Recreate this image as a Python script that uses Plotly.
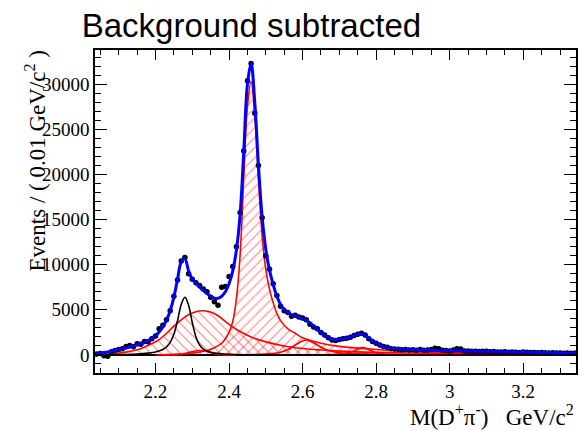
import plotly.graph_objects as go

# ---------------- data ----------------
# measured points (0.01 GeV bins)
data_m = [round(2.04 + 0.01 * i, 2) for i in range(131)]
data_v = [100, 150, -100, -150, 350, 500, 600, 700, 950, 1050,
          900, 1250, 1200, 1500, 1450, 1800, 2100, 2900, 3300, 3900,
          4900, 6500, 8300, 10400, 10800, 9000, 8400, 8000, 7700, 7300,
          7000, 6400, 5900, 5500, 7500, 7600, 8700, 9800, 12000, 15800,
          22600, 30400, 32300, 26800, 21000, 15200, 11000, 9500, 7900, 6600,
          5400, 4900, 4700, 4300, 4400, 4200, 4100, 3900, 3400, 3100,
          2900, 2500, 2200, 1900, 1650, 1600, 1700, 1800, 1850, 1950,
          2150, 2300, 2400, 2200, 1800, 1500, 1300, 1100, 950, 850,
          700, 650, 620, 580, 600, 560, 580, 530, 600, 520,
          560, 600, 750, 700, 520, 480, 450, 560, 700, 650,
          450, 430, 400, 420, 380, 400, 420, 360, 380, 340,
          330, 360, 300, 340, 310, 280, 320, 300, 260, 280,
          250, 270, 240, 230, 250, 210, 230, 200, 220, 190,
          200]

# total fit (blue)
tot_m = [2.035, 2.04, 2.05, 2.06, 2.07, 2.08, 2.09, 2.10, 2.11, 2.12, 2.13, 2.14,
         2.15, 2.16, 2.17, 2.18, 2.19, 2.20, 2.21, 2.22, 2.23, 2.24, 2.25, 2.26,
         2.27, 2.28, 2.29, 2.30, 2.31, 2.32, 2.33, 2.34, 2.35, 2.36, 2.37, 2.38,
         2.39, 2.40, 2.41, 2.42, 2.43, 2.44, 2.45, 2.46, 2.47, 2.48, 2.49, 2.50,
         2.51, 2.52, 2.53, 2.54, 2.55, 2.56, 2.57, 2.58, 2.59, 2.60, 2.61, 2.62,
         2.63, 2.64, 2.65, 2.66, 2.67, 2.68, 2.69, 2.70, 2.71, 2.72, 2.73, 2.74,
         2.75, 2.76, 2.77, 2.78, 2.79, 2.80, 2.81, 2.82, 2.83, 2.84, 2.85, 2.87,
         2.90, 2.95, 3.00, 3.05, 3.10, 3.15, 3.20, 3.25, 3.30, 3.344]
tot_v = [100, 130, 200, 270, 340, 420, 500, 580, 670, 770, 880, 1000,
         1120, 1250, 1400, 1580, 1820, 2150, 2550, 3100, 3850, 4900, 6400, 8400,
         10300, 10650, 9300, 8400, 7950, 7500, 7150, 6800, 6500, 6300, 6280, 6500,
         7000, 7900, 9300, 11600, 15500, 22500, 30000, 32300, 28000, 21000, 15300, 11700,
         9400, 7800, 6500, 5600, 5050, 4700, 4450, 4300, 4150, 4000, 3850, 3550,
         3200, 2850, 2450, 2150, 1900, 1760, 1700, 1720, 1780, 1870, 1980, 2120,
         2260, 2320, 2200, 1900, 1560, 1280, 1080, 940, 840, 770, 710, 640,
         590, 530, 480, 440, 400, 360, 320, 280, 230, 200]

# broad red component (~2.33)
broad_m = [2.035, 2.06, 2.10, 2.13, 2.16, 2.19, 2.21, 2.23, 2.25, 2.27, 2.29, 2.31,
           2.33, 2.35, 2.37, 2.40, 2.43, 2.46, 2.50, 2.55, 2.60, 2.65, 2.70, 2.80,
           2.90, 3.00, 3.10, 3.20, 3.344]
broad_v = [0, 60, 200, 400, 700, 1250, 1700, 2400, 3200, 3900, 4450, 4800,
           4900, 4750, 4350, 3400, 2600, 2000, 1450, 1000, 720, 550, 430, 290,
           210, 160, 130, 110, 90]

# main red peak (~2.46)
main_m = [2.20, 2.30, 2.34, 2.36, 2.38, 2.39, 2.40, 2.41, 2.42, 2.43, 2.44, 2.45,
          2.46, 2.47, 2.48, 2.49, 2.50, 2.51, 2.52, 2.53, 2.54, 2.56, 2.58, 2.60,
          2.65, 2.70, 2.80, 2.90, 3.00, 3.10, 3.20, 3.344]
main_v = [0, 200, 500, 800, 1300, 1800, 2500, 3700, 6200, 11000, 19500, 27500,
          30300, 26500, 19500, 13200, 9500, 7300, 5800, 4600, 3800, 2900, 2400, 1900,
          1300, 950, 600, 400, 300, 230, 180, 140]

# red component (~2.61)
c2600_m = [2.45, 2.50, 2.54, 2.56, 2.58, 2.60, 2.61, 2.62, 2.64, 2.66, 2.68, 2.72,
           2.80, 2.90, 3.344]
c2600_v = [30, 100, 300, 600, 1100, 1550, 1650, 1550, 1100, 650, 380, 180,
           80, 40, 10]

# red component (~2.76)
c2760_m = [2.62, 2.68, 2.70, 2.72, 2.74, 2.75, 2.76, 2.77, 2.78, 2.80, 2.82, 2.86,
           2.95, 3.344]
c2760_v = [0, 50, 100, 200, 450, 650, 800, 780, 600, 250, 110, 40, 15, 0]

# small red component (~2.32)
c2320_m = [2.22, 2.26, 2.28, 2.30, 2.32, 2.34, 2.36, 2.38, 2.42]
c2320_v = [0, 30, 150, 380, 500, 380, 150, 40, 0]

# black narrow component (~2.28)
narrow_m = [2.035, 2.10, 2.15, 2.18, 2.20, 2.22, 2.23, 2.24, 2.25, 2.26, 2.27, 2.28,
            2.29, 2.30, 2.31, 2.32, 2.33, 2.35, 2.38, 2.42, 2.50, 3.344]
narrow_v = [5, 30, 100, 200, 320, 600, 900, 1400, 2300, 3800, 5600, 6400,
            5500, 3600, 2000, 1100, 650, 300, 130, 50, 10, 0]

x_ticks_major = 0.2
y_ticks_major = 5000

# ---------------- figure ----------------
RED = "#ff0000"
fig = go.Figure()

clear = "rgba(0,0,0,0)"
fig.add_trace(go.Scatter(
    x=broad_m, y=broad_v, mode="lines", line=dict(color=RED, width=1.6, shape="spline"),
    fill="tozeroy", fillcolor=clear,
    fillpattern=dict(shape="\\", fgcolor=RED, bgcolor=clear, size=7, solidity=0.15),
    hoverinfo="skip", showlegend=False))
fig.add_trace(go.Scatter(
    x=main_m, y=main_v, mode="lines", line=dict(color=RED, width=1.6, shape="spline"),
    fill="tozeroy", fillcolor=clear,
    fillpattern=dict(shape="/", fgcolor=RED, bgcolor=clear, size=7, solidity=0.15),
    hoverinfo="skip", showlegend=False))
for mm, vv in [(c2600_m, c2600_v), (c2760_m, c2760_v), (c2320_m, c2320_v)]:
    fig.add_trace(go.Scatter(x=mm, y=vv, mode="lines",
                             line=dict(color=RED, width=1.6, shape="spline"),
                             hoverinfo="skip", showlegend=False))
fig.add_trace(go.Scatter(x=narrow_m, y=narrow_v, mode="lines",
                         line=dict(color="black", width=1.6, shape="spline"),
                         hoverinfo="skip", showlegend=False))
fig.add_trace(go.Scatter(x=data_m, y=data_v, mode="markers",
                         marker=dict(color="black", size=5.5),
                         error_y=dict(type="constant", value=250, color="black", thickness=1, width=0),
                         showlegend=False))
fig.add_trace(go.Scatter(x=tot_m, y=tot_v, mode="lines",
                         line=dict(color="#0000ff", width=3, shape="spline"),
                         showlegend=False))

serif = "Liberation Serif, Times New Roman, serif"
fig.update_xaxes(range=[2.0355, 3.3435], dtick=x_ticks_major, tick0=2.0,
                 ticks="inside", ticklen=10, tickwidth=1, tickcolor="black",
                 minor=dict(dtick=0.05, ticks="inside", ticklen=5, tickcolor="black"),
                 showline=True, linecolor="black", linewidth=1.5, mirror="ticks",
                 showgrid=False, zeroline=False,
                 tickfont=dict(family=serif, size=19, color="black"))
fig.update_yaxes(range=[-2000, 33800], dtick=y_ticks_major, tick0=0, tickformat="d",
                 ticks="inside", ticklen=12, tickwidth=1, tickcolor="black",
                 minor=dict(dtick=1000, ticks="inside", ticklen=6, tickcolor="black"),
                 showline=True, linecolor="black", linewidth=1.5, mirror="ticks",
                 showgrid=False, zeroline=True, zerolinecolor="black", zerolinewidth=2,
                 tickfont=dict(family=serif, size=19, color="black"))

fig.add_annotation(text="Events / ( 0.01 GeV/c<sup>2</sup> )", textangle=-90,
                   xref="paper", yref="paper", x=-0.124, y=0.656,
                   xanchor="center", yanchor="middle", showarrow=False,
                   font=dict(family=serif, size=23, color="black"))
fig.add_annotation(text="M(D<sup>+</sup>\u03c0<sup>-</sup>)\u00a0\u00a0\u00a0GeV/c<sup>2</sup>",
                   xref="paper", yref="paper", x=1.0, y=-0.182,
                   xanchor="right", yanchor="bottom", showarrow=False,
                   font=dict(family=serif, size=23, color="black"))

fig.update_layout(
    width=582, height=430,
    margin=dict(l=95, r=4, t=50, b=57),
    paper_bgcolor="white", plot_bgcolor="white",
    title=dict(text="Background subtracted", x=0.432, xref="container", xanchor="center",
               y=0.94, yref="container", yanchor="middle",
               font=dict(family="Liberation Sans, Arial, sans-serif", size=33, color="black")),
)

fig.write_html("out.html", config={"displayModeBar": False},
               post_script="document.body.style.margin='0';")
